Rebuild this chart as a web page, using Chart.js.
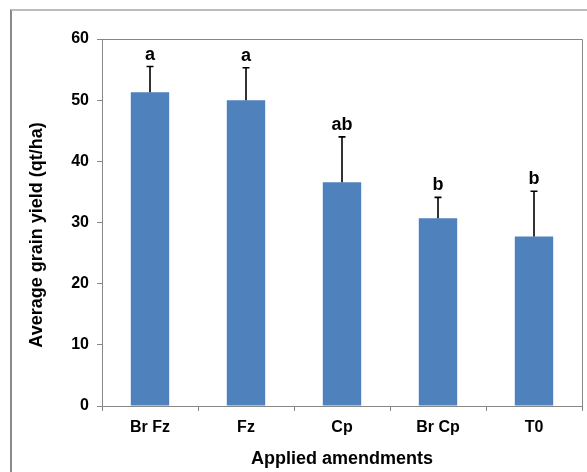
<!DOCTYPE html>
<html>
    <head>
        <meta charset="UTF-8">
        <title>Grain yield by amendment</title>
        <script src="https://cdn.jsdelivr.net/npm/chart.js@4.4.0/dist/chart.umd.min.js"></script>
        <style>
            body { margin: 0; background: #fff; overflow: hidden; }
            #frame { position: absolute; left: 10px; top: 9px; width: 600px; height: 500px;
                     border-left: 2px solid #8a8a8a; border-top: 2px solid #bcbcbc; }
            #container { position: absolute; left: 0; top: 0; width: 587px; height: 472px; }
        </style>
        <script type="text/javascript">
            var amendments = ['Br Fz', 'Fz', 'Cp', 'Br Cp', 'T0'];
            var yieldMean = [51.3, 50.0, 36.6, 30.7, 27.7];
            var yieldErr = [4.2, 5.3, 7.4, 3.4, 7.4];
            var groupLetters = ['a', 'a', 'ab', 'b', 'b'];
            var yTicks = [0, 10, 20, 30, 40, 50, 60];

            var fontFamily = '"Liberation Sans", Arial, sans-serif';
            var axisGray = '#878787';

            // error bars (upper half only) and significance letters
            var errorBars = {
                id: 'errorBars',
                afterDatasetsDraw: function (chart) {
                    var ctx = chart.ctx;
                    var yScale = chart.scales.y;
                    var meta = chart.getDatasetMeta(0);
                    ctx.save();
                    ctx.strokeStyle = '#000';
                    ctx.lineWidth = 1.6;
                    ctx.fillStyle = '#000';
                    ctx.font = 'bold 18px ' + fontFamily;
                    ctx.textAlign = 'center';
                    ctx.textBaseline = 'alphabetic';
                    meta.data.forEach(function (bar, i) {
                        var top = yScale.getPixelForValue(yieldMean[i] + yieldErr[i]);
                        ctx.beginPath();
                        ctx.moveTo(bar.x, bar.y);
                        ctx.lineTo(bar.x, top);
                        ctx.moveTo(bar.x - 3.5, top);
                        ctx.lineTo(bar.x + 3.5, top);
                        ctx.stroke();
                        ctx.fillText(groupLetters[i], bar.x, top - 7);
                    });
                    ctx.restore();
                }
            };

            // top and right edges of the plot area
            var plotBorder = {
                id: 'plotBorder',
                afterDraw: function (chart) {
                    var a = chart.chartArea;
                    var ctx = chart.ctx;
                    ctx.save();
                    ctx.strokeStyle = axisGray;
                    ctx.lineWidth = 1;
                    ctx.beginPath();
                    ctx.moveTo(a.left, Math.round(a.top) + 0.5);
                    ctx.lineTo(Math.round(a.right) + 0.5, Math.round(a.top) + 0.5);
                    ctx.lineTo(Math.round(a.right) + 0.5, a.bottom);
                    ctx.stroke();
                    ctx.restore();
                }
            };

            window.onload = function () {
                var ctx = document.getElementById('yieldCanvas').getContext('2d');
                window.yieldChart = new Chart(ctx, {
                    type: 'bar',
                    data: {
                        labels: amendments,
                        datasets: [{
                            data: yieldMean,
                            backgroundColor: '#4f81bd',
                            borderWidth: 0,
                            barPercentage: 0.4,
                            categoryPercentage: 1
                        }]
                    },
                    options: {
                        responsive: false,
                        animation: false,
                        layout: {
                            padding: { top: 39, right: 5, left: 0, bottom: 0 }
                        },
                        plugins: {
                            legend: { display: false },
                            tooltip: { enabled: false }
                        },
                        scales: {
                            x: {
                                offset: true,
                                grid: {
                                    offset: true,
                                    drawOnChartArea: false,
                                    tickLength: 5,
                                    color: axisGray
                                },
                                border: { color: axisGray, width: 1 },
                                ticks: {
                                    color: '#000',
                                    padding: 7,
                                    font: { family: fontFamily, size: 16, weight: 'bold' }
                                },
                                title: {
                                    display: true,
                                    text: 'Applied amendments',
                                    color: '#000',
                                    padding: { top: 0, bottom: 2 },
                                    font: { family: fontFamily, size: 18, weight: 'bold' }
                                },
                                afterFit: function (scale) { scale.height = 66; }
                            },
                            y: {
                                min: 0,
                                max: 60,
                                afterBuildTicks: function (scale) {
                                    scale.ticks = yTicks.map(function (v) { return { value: v }; });
                                },
                                grid: {
                                    drawOnChartArea: false,
                                    tickLength: 5,
                                    color: axisGray
                                },
                                border: { color: axisGray, width: 1 },
                                ticks: {
                                    color: '#000',
                                    padding: 8,
                                    font: { family: fontFamily, size: 16, weight: 'bold' }
                                },
                                title: {
                                    display: true,
                                    // trailing spaces nudge the rotated title down a little
                                    text: 'Average grain yield (qt/ha)     ',
                                    color: '#000',
                                    padding: { top: 26, bottom: 0 },
                                    font: { family: fontFamily, size: 18, weight: 'bold' }
                                },
                                afterFit: function (scale) { scale.width = 102; }
                            }
                        }
                    },
                    plugins: [errorBars, plotBorder]
                });
            };
        </script>
    </head>
    <body>
        <div id="frame"></div>
        <div id="container">
            <canvas id="yieldCanvas" width="587" height="472"></canvas>
        </div>
    </body>
</html>
